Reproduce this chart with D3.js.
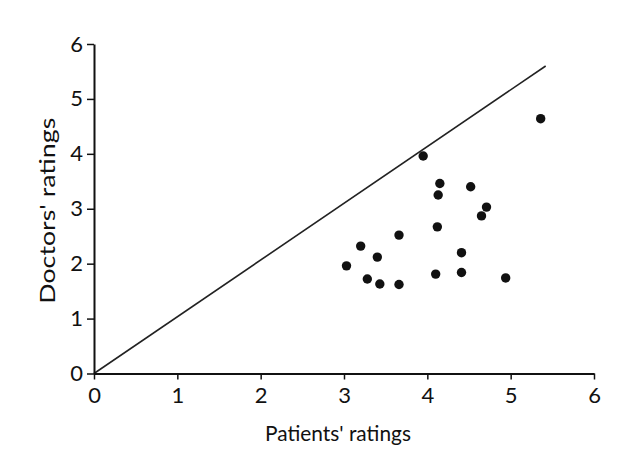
<!DOCTYPE html>
<html>
<head>
<meta charset="utf-8">
<script src="https://cdn.jsdelivr.net/npm/d3@7"></script>
<style>
  body { margin: 0; background: #fff; }
  svg { display: block; }
  .tick text { font-family: Lato, "Open Sans", sans-serif; fill: #111; }
</style>
</head>
<body>
<div class="chart"></div>
<script>
// values
var patients = [5.36, 3.95, 4.15, 4.13, 4.52, 4.71, 4.65, 4.12, 3.66, 3.20, 3.40, 4.41, 3.03, 3.28, 3.43, 3.66, 4.10, 4.41, 4.94];
var doctors  = [4.64, 3.96, 3.46, 3.25, 3.40, 3.03, 2.87, 2.67, 2.52, 2.32, 2.12, 2.20, 1.96, 1.72, 1.63, 1.62, 1.81, 1.84, 1.74];
var lineX = [0, 5.42];
var lineY = [0, 5.6];
var ticks = [0, 1, 2, 3, 4, 5, 6];

var svgWidth = 631;
var svgHeight = 461;

var margin = { top: 44, right: 37, bottom: 87.5, left: 94 };
var width = svgWidth - margin.left - margin.right;
var height = svgHeight - margin.top - margin.bottom;

var svg = d3.select(".chart")
  .append("svg")
  .attr("width", svgWidth)
  .attr("height", svgHeight);

var chartGroup = svg.append("g")
  .attr("transform", `translate(${margin.left}, ${margin.top})`);

var xScale = d3.scaleLinear().domain([0, 6]).range([0, width]);
var yScale = d3.scaleLinear().domain([0, 6]).range([height, 0]);

// diagonal
chartGroup.append("line")
  .attr("x1", xScale(lineX[0]))
  .attr("y1", yScale(lineY[0]))
  .attr("x2", xScale(lineX[1]))
  .attr("y2", yScale(lineY[1]))
  .attr("stroke", "#222")
  .attr("stroke-width", 1.6);

// axes
var bottomAxis = d3.axisBottom(xScale).tickValues(ticks).tickFormat(d3.format("d"))
  .tickSize(6).tickSizeOuter(0).tickPadding(8);
var leftAxis = d3.axisLeft(yScale).tickValues(ticks).tickFormat(d3.format("d"))
  .tickSize(7).tickSizeOuter(0).tickPadding(4);

var xg = chartGroup.append("g")
  .attr("transform", `translate(0, ${height})`)
  .call(bottomAxis);
var yg = chartGroup.append("g")
  .call(leftAxis);

[xg, yg].forEach(function(g) {
  g.select(".domain").attr("stroke", "#111").attr("stroke-width", 2);
  g.selectAll(".tick line").attr("stroke", "#111").attr("stroke-width", 1.5);
  g.selectAll(".tick text").attr("font-size", 22);
});

// points
chartGroup.selectAll("circle")
  .data(patients)
  .enter()
  .append("circle")
  .attr("cx", d => xScale(d))
  .attr("cy", (d, i) => yScale(doctors[i]))
  .attr("r", 4.7)
  .attr("fill", "#111");

// axis labels
chartGroup.append("text")
  .attr("x", width / 2 - 6)
  .attr("y", height + 67)
  .attr("text-anchor", "middle")
  .attr("font-family", "Lato, sans-serif")
  .attr("font-size", 22)
  .attr("textLength", 146)
  .attr("lengthAdjust", "spacingAndGlyphs")
  .attr("fill", "#111")
  .text("Patients' ratings");

chartGroup.append("text")
  .attr("transform", `translate(${-margin.left + 55}, ${height / 2 + 2}) rotate(-90)`)
  .attr("text-anchor", "middle")
  .attr("font-family", "Lato, sans-serif")
  .attr("font-size", 21)
  .attr("textLength", 186)
  .attr("lengthAdjust", "spacingAndGlyphs")
  .attr("fill", "#111")
  .text("Doctors' ratings");
</script>
</body>
</html>
